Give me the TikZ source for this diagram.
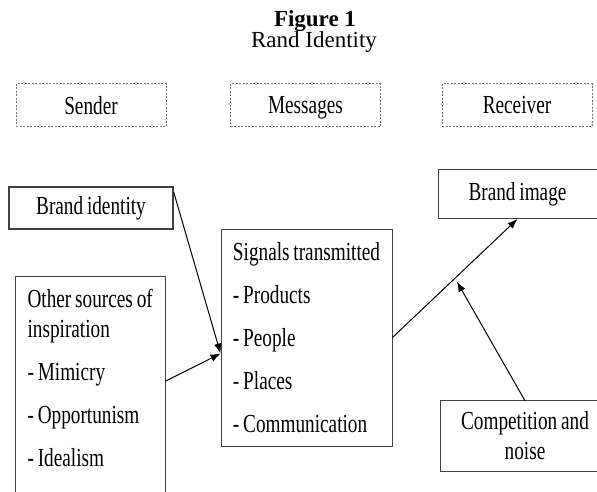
\documentclass[tikz,border=0pt]{standalone}
\usepackage{fontspec}
\setmainfont{Liberation Serif}
\newfontfamily\narrowserif{Liberation Serif}[FakeStretch=0.74, WordSpace=0.8]
\usetikzlibrary{arrows.meta, calc}

\begin{document}
\begin{tikzpicture}[x=1pt, y=-1pt,
  dbox/.style={draw=black!55, dash pattern=on 2pt off 1.5pt, line width=.8pt, minimum width=150pt, minimum height=43pt, inner sep=0pt, text depth=0pt},
  box/.style={draw=black!75, line width=.9pt, inner sep=0pt},
  txt/.style={font=\narrowserif\fontsize{26}{30}\selectfont},
  link/.style={-{Latex[length=10pt,width=7.5pt]}, line width=1pt}]
\useasboundingbox (0,0) rectangle (597,491);
\node[font=\bfseries\fontsize{23}{27}\selectfont, anchor=base] (fig) at (315,26) {Figure 1};
\node[font=\fontsize{23}{27}\selectfont, anchor=base] (title) at (314,47) {Rand Identity};

\node[dbox, txt] (sender) at (91,105) {Sender};
\node[dbox, txt] (messages) at (305.5,105) {Messages};
\node[dbox, txt] (receiver) at (517,105) {Receiver};

\node[box, txt, line width=1.5pt, minimum width=164pt, minimum height=42pt] (brandid) at (91,208) {Brand identity};
\node[box, txt, minimum width=159pt, minimum height=49pt] (bimage) at (517.5,194) {Brand image};
\node[box, font=\narrowserif\fontsize{26}{43}\selectfont, align=left, minimum width=171pt, minimum height=217pt] (signals) at (306.5,337.5)
  {Signals transmitted\\- Products\\- People\\- Places\\- Communication};
\node[txt, align=left, minimum width=150pt, inner ysep=0pt, minimum height=204pt, anchor=north west] (other) at (15,276)
  {Other sources of\\inspiration\\[13pt]- Mimicry\\[13pt]- Opportunism\\[13pt]- Idealism};
\node[txt, align=center, minimum width=168pt, minimum height=70pt, inner sep=0pt] (comp) at (525,436) {Competition and\\noise};

% open frames, cut by the page
\coordinate (pageright) at (597,0);
\draw[black!75, line width=.9pt] ([yshift=-12pt]other.south west) |- (other.north east) -- ([yshift=-12pt]other.south east);
\draw[black!75, line width=.9pt] (comp.north -| pageright) -| (comp.south west) -- (comp.south -| pageright);

% arrows
\coordinate (meet) at ([yshift=-16pt]signals.west);
\coordinate (noise) at ($(signals.east)!.5!(bimage.south)$);
\draw[link] ([yshift=-6pt]brandid.north east) -- (meet);
\draw[link] ([yshift=-3pt]other.east) -- (meet);
\draw[link] (signals.east) -- (bimage.south);
\draw[link, shorten >=4pt] (comp.north) -- (noise);
\end{tikzpicture}
\end{document}
